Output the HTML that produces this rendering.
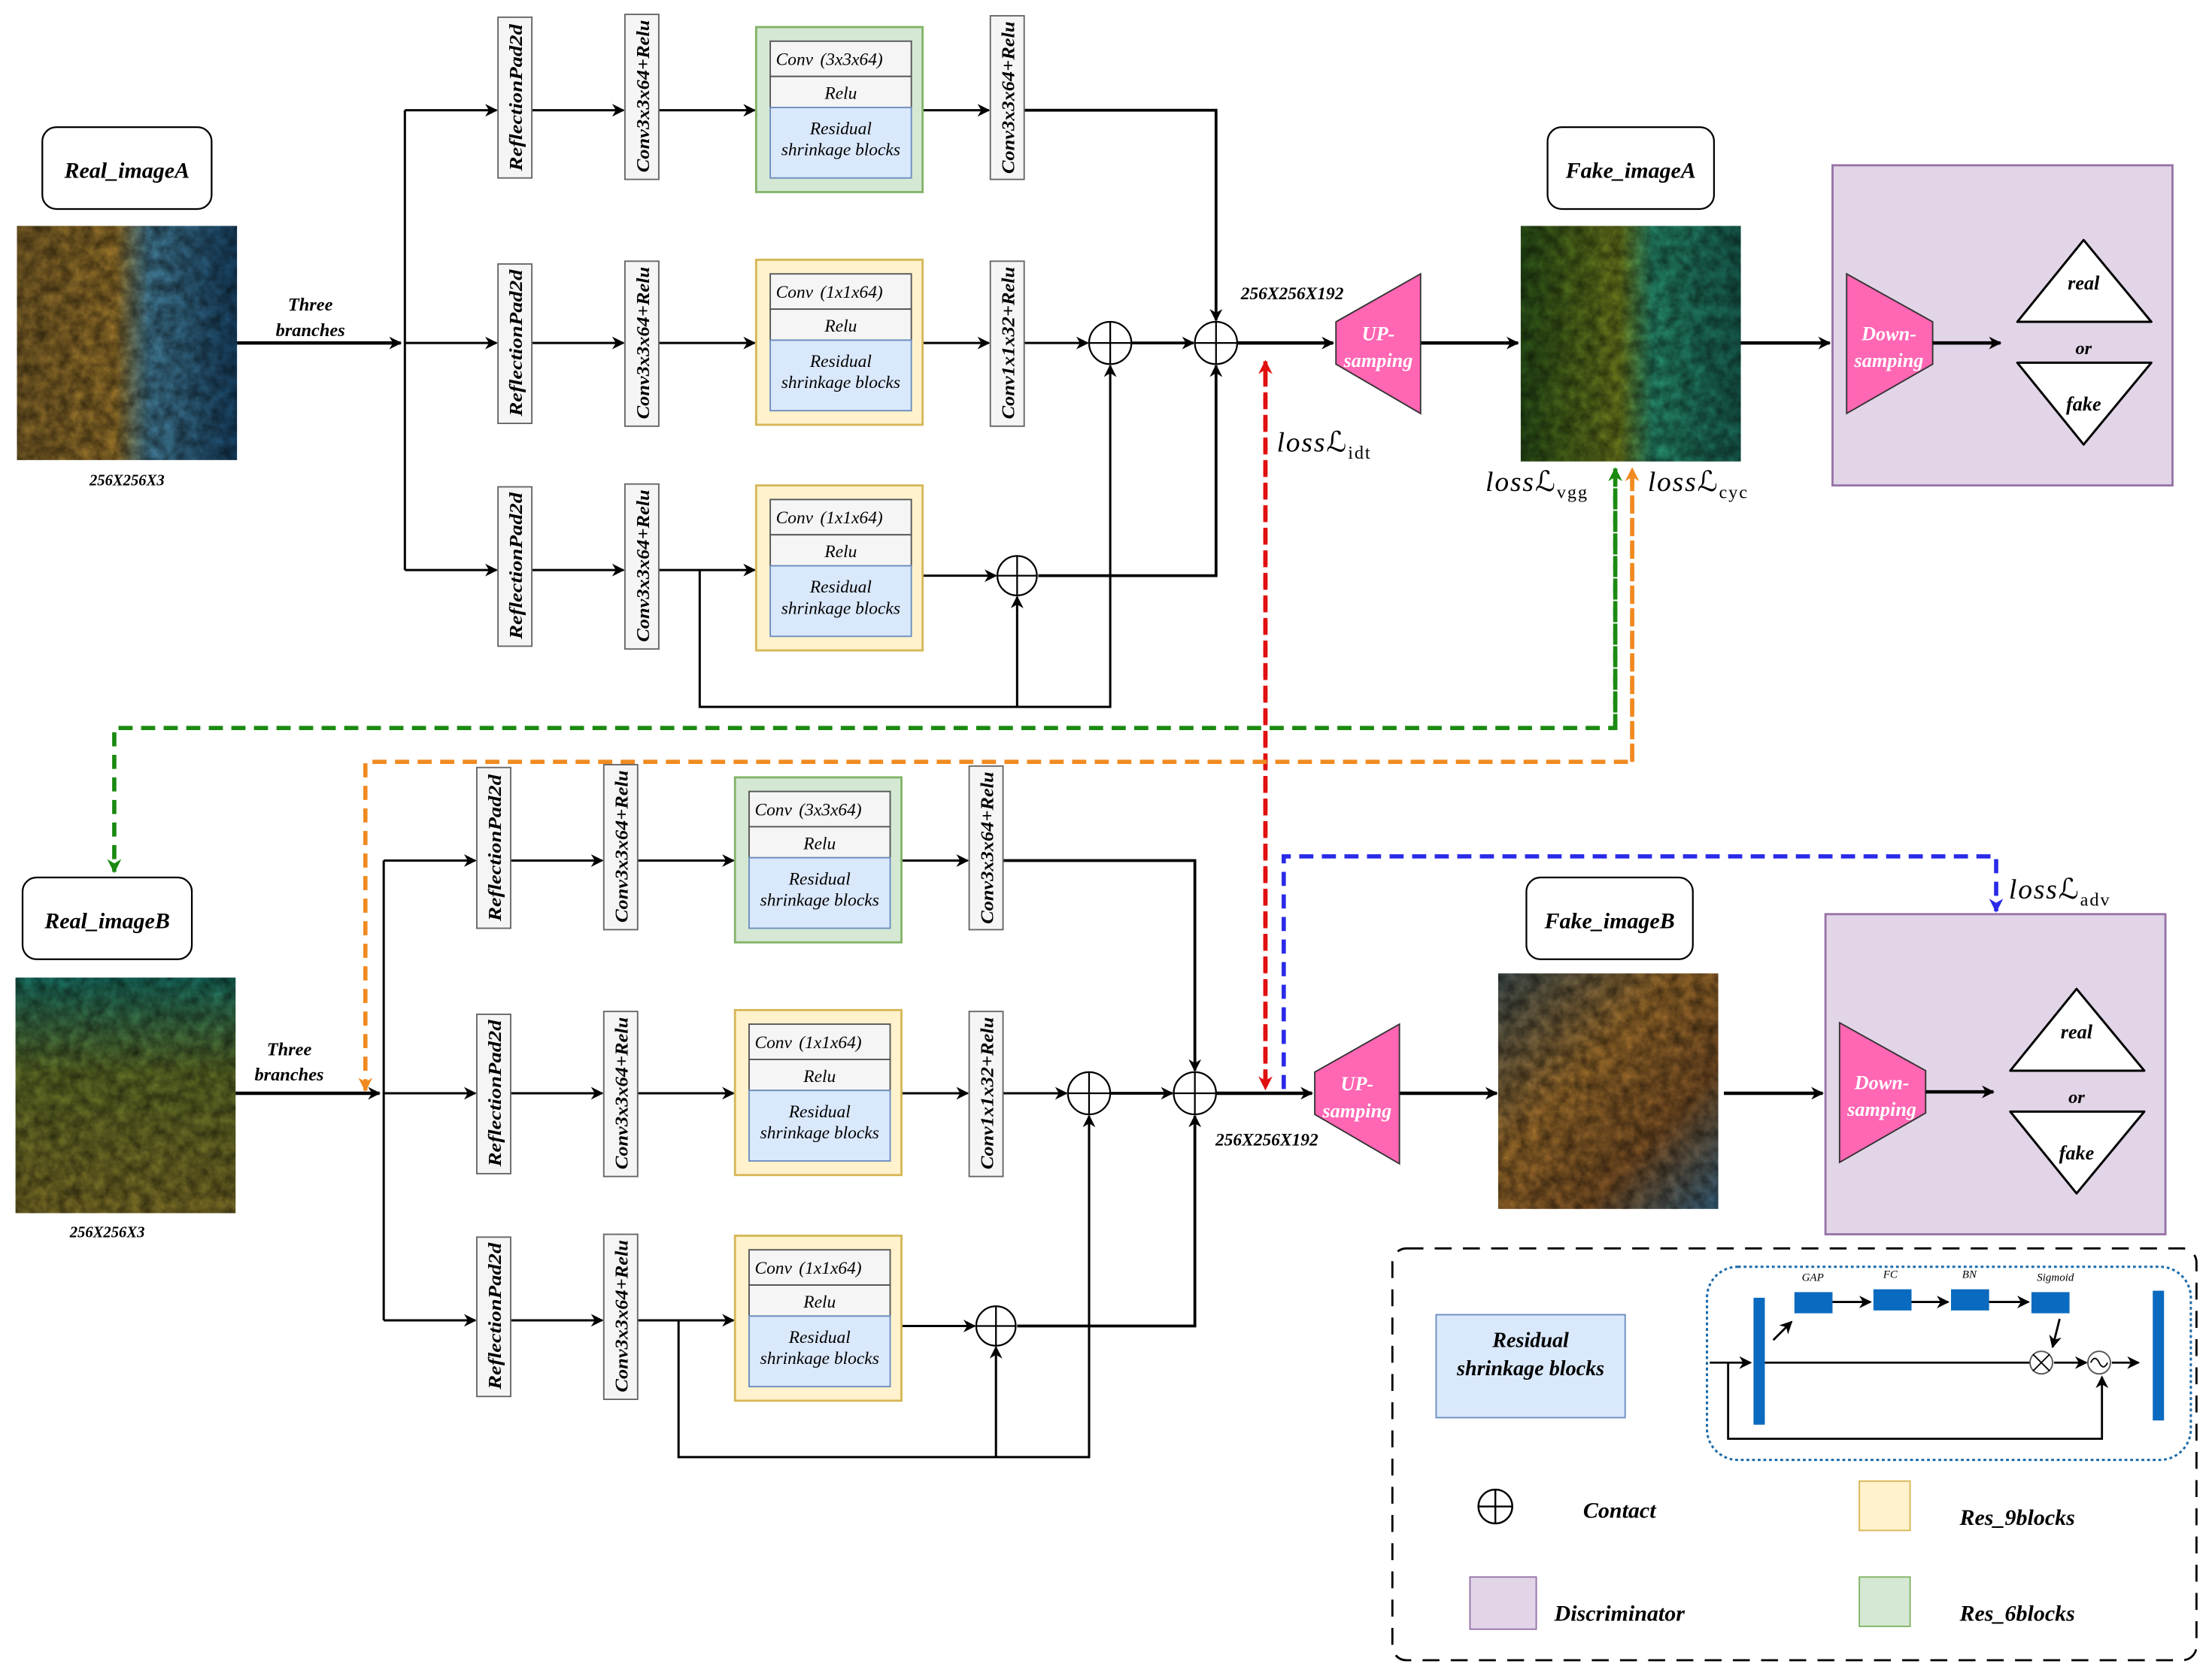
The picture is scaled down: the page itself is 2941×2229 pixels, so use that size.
<!DOCTYPE html>
<html><head><meta charset="utf-8"><style>
html,body{margin:0;padding:0;background:#fff}
svg{display:block}
text{font-family:"Liberation Serif",serif;font-style:italic}
.b{font-weight:bold}
</style></head><body>
<svg width="2941" height="2229" viewBox="0 0 1568 1188" xmlns="http://www.w3.org/2000/svg">
<defs>
<marker id="ar" viewBox="0 0 10 10" refX="9" refY="5" markerWidth="9" markerHeight="9" markerUnits="userSpaceOnUse" orient="auto"><path d="M0,0 L10,5 L0,10 L3,5z" fill="#000"/></marker>
<marker id="arR" viewBox="0 0 10 10" refX="9" refY="5" markerWidth="10" markerHeight="10" markerUnits="userSpaceOnUse" orient="auto"><path d="M0,0 L10,5 L0,10 L3,5z" fill="#e01010"/></marker>
<marker id="arG" viewBox="0 0 10 10" refX="9" refY="5" markerWidth="10" markerHeight="10" markerUnits="userSpaceOnUse" orient="auto"><path d="M0,0 L10,5 L0,10 L3,5z" fill="#1a8a10"/></marker>
<marker id="arO" viewBox="0 0 10 10" refX="9" refY="5" markerWidth="10" markerHeight="10" markerUnits="userSpaceOnUse" orient="auto"><path d="M0,0 L10,5 L0,10 L3,5z" fill="#f08a20"/></marker>
<marker id="arB" viewBox="0 0 10 10" refX="9" refY="5" markerWidth="10" markerHeight="10" markerUnits="userSpaceOnUse" orient="auto"><path d="M0,0 L10,5 L0,10 L3,5z" fill="#2a2ae8"/></marker>
<linearGradient id="imA" x1="0" y1="0" x2="1" y2="0"><stop offset="0" stop-color="#8a6a2a"/><stop offset="0.45" stop-color="#a8802e"/><stop offset="0.6" stop-color="#4a8aa8"/><stop offset="1" stop-color="#1a4a70"/></linearGradient>
<linearGradient id="imFA" x1="0" y1="0" x2="1" y2="0"><stop offset="0" stop-color="#2d5a1a"/><stop offset="0.45" stop-color="#7a8a20"/><stop offset="0.6" stop-color="#2a9a78"/><stop offset="1" stop-color="#1a6a5a"/></linearGradient>
<linearGradient id="imB" x1="0" y1="0" x2="0" y2="1"><stop offset="0" stop-color="#1a7a6a"/><stop offset="0.4" stop-color="#6a7a2a"/><stop offset="1" stop-color="#8a7a2a"/></linearGradient>
<linearGradient id="imFB" x1="0" y1="0" x2="1" y2="1"><stop offset="0" stop-color="#4a5a5a"/><stop offset="0.4" stop-color="#b07a30"/><stop offset="0.7" stop-color="#8a5a28"/><stop offset="1" stop-color="#3a6a8a"/></linearGradient>
<filter id="tx"><feTurbulence type="fractalNoise" baseFrequency="0.12" numOctaves="3" seed="3"/><feColorMatrix values="0 0 0 0 0  0 0 0 0 0  0 0 0 0 0  0 0 0 0.7 0"/><feComposite in2="SourceGraphic" operator="in"/></filter>
<g id="gen">
 <g fill="none" stroke="#000" stroke-width="1.6">
  <path d="M287,78 V404"/>
  <path d="M287,78 H352" marker-end="url(#ar)"/>
  <path d="M287,243 H352" marker-end="url(#ar)"/>
  <path d="M287,404 H352" marker-end="url(#ar)"/>
  <path d="M377,78 H442" marker-end="url(#ar)"/>
  <path d="M377,243 H442" marker-end="url(#ar)"/>
  <path d="M377,404 H442" marker-end="url(#ar)"/>
  <path d="M467,78 H535" marker-end="url(#ar)"/>
  <path d="M467,243 H535" marker-end="url(#ar)"/>
  <path d="M467,404 H535" marker-end="url(#ar)"/>
  <path d="M654,78 H701" marker-end="url(#ar)"/>
  <path d="M654,243 H701" marker-end="url(#ar)"/>
  <path d="M726,78 H862 V227" stroke-width="2" marker-end="url(#ar)"/>
  <path d="M726,243 H771" marker-end="url(#ar)"/>
  <path d="M802,243 H846" stroke-width="2" marker-end="url(#ar)"/>
  <path d="M654,408 H706" marker-end="url(#ar)"/>
  <path d="M736,408 H862 V259" stroke-width="2" marker-end="url(#ar)"/>
  <path d="M496,404 V501 H787 V259" marker-end="url(#ar)"/>
  <path d="M721,501 V423" marker-end="url(#ar)"/>
  <path d="M877,243 H945" stroke-width="2.4" marker-end="url(#ar)"/>
  <path d="M1007,243 H1076" stroke-width="2.4" marker-end="url(#ar)"/>
 </g>
 <g fill="#fff" stroke="#000" stroke-width="1.2">
  <circle cx="787" cy="243" r="15"/><path d="M772,243H802M787,228V258"/>
  <circle cx="862" cy="243" r="15"/><path d="M847,243H877M862,228V258"/>
  <circle cx="721" cy="408" r="14"/><path d="M707,408H735M721,394V422"/>
 </g>
 <g fill="#f5f5f5" stroke="#666" stroke-width="1">
  <rect x="353" y="12" width="24" height="114"/><rect x="353" y="187" width="24" height="113"/><rect x="353" y="345" width="24" height="113"/>
  <rect x="443" y="10" width="24" height="117"/><rect x="443" y="185" width="24" height="117"/><rect x="443" y="343" width="24" height="117"/>
  <rect x="702" y="11" width="24" height="116"/><rect x="702" y="185" width="24" height="117"/>
 </g>
 <g font-size="13" class="b" text-anchor="middle" lengthAdjust="spacingAndGlyphs">
  <text transform="translate(370,69) rotate(-90)" textLength="104" lengthAdjust="spacingAndGlyphs">ReflectionPad2d</text>
  <text transform="translate(370,243) rotate(-90)" textLength="104" lengthAdjust="spacingAndGlyphs">ReflectionPad2d</text>
  <text transform="translate(370,401) rotate(-90)" textLength="104" lengthAdjust="spacingAndGlyphs">ReflectionPad2d</text>
  <text transform="translate(460,68) rotate(-90)" textLength="108" lengthAdjust="spacingAndGlyphs">Conv3x3x64+Relu</text>
  <text transform="translate(460,243) rotate(-90)" textLength="108" lengthAdjust="spacingAndGlyphs">Conv3x3x64+Relu</text>
  <text transform="translate(460,401) rotate(-90)" textLength="108" lengthAdjust="spacingAndGlyphs">Conv3x3x64+Relu</text>
  <text transform="translate(719,69) rotate(-90)" textLength="108" lengthAdjust="spacingAndGlyphs">Conv3x3x64+Relu</text>
  <text transform="translate(719,243) rotate(-90)" textLength="108" lengthAdjust="spacingAndGlyphs">Conv1x1x32+Relu</text>
 </g>
 <rect x="536" y="19" width="118" height="117" fill="#d5e8d4" stroke="#82b366" stroke-width="1.5"/>
 <rect x="536" y="184" width="118" height="117" fill="#fff2cc" stroke="#d6b656" stroke-width="1.5"/>
 <rect x="536" y="344" width="118" height="117" fill="#fff2cc" stroke="#d6b656" stroke-width="1.5"/>
 <g stroke="#555" stroke-width="1">
  <rect x="546" y="29" width="100" height="25" fill="#f5f5f5"/><rect x="546" y="54" width="100" height="22" fill="#f5f5f5"/><rect x="546" y="76" width="100" height="50" fill="#dae8fc" stroke="#6c8ebf"/>
  <rect x="546" y="194" width="100" height="25" fill="#f5f5f5"/><rect x="546" y="219" width="100" height="22" fill="#f5f5f5"/><rect x="546" y="241" width="100" height="50" fill="#dae8fc" stroke="#6c8ebf"/>
  <rect x="546" y="354" width="100" height="25" fill="#f5f5f5"/><rect x="546" y="379" width="100" height="22" fill="#f5f5f5"/><rect x="546" y="401" width="100" height="50" fill="#dae8fc" stroke="#6c8ebf"/>
 </g>
 <g font-size="12.5">
  <text x="550" y="46">Conv<tspan x="572">&#160;&#160;&#160;(3x3x64)</tspan></text><text x="596" y="70" text-anchor="middle">Relu</text><text x="596" y="95" text-anchor="middle">Residual</text><text x="596" y="110" text-anchor="middle">shrinkage blocks</text>
  <text x="550" y="211">Conv<tspan x="572">&#160;&#160;&#160;(1x1x64)</tspan></text><text x="596" y="235" text-anchor="middle">Relu</text><text x="596" y="260" text-anchor="middle">Residual</text><text x="596" y="275" text-anchor="middle">shrinkage blocks</text>
  <text x="550" y="371">Conv<tspan x="572">&#160;&#160;&#160;(1x1x64)</tspan></text><text x="596" y="395" text-anchor="middle">Relu</text><text x="596" y="420" text-anchor="middle">Residual</text><text x="596" y="435" text-anchor="middle">shrinkage blocks</text>
 </g>
 <path d="M947,228 L1007,194 L1007,293 L947,258Z" fill="#ff66b3" stroke="#333" stroke-width="1"/>
 <text x="977" y="241" font-size="14" class="b" fill="#fff" text-anchor="middle">UP-</text>
 <text x="977" y="260" font-size="14" class="b" fill="#fff" text-anchor="middle">samping</text>
</g>
<g id="disc">
 <rect x="1299" y="117" width="241" height="227" fill="#e1d5e7" stroke="#9673a6" stroke-width="1.5"/>
 <path d="M1309,194 L1370,228 L1370,258 L1309,293Z" fill="#ff66b3" stroke="#333" stroke-width="1"/>
 <text x="1339" y="241" font-size="14" class="b" fill="#fff" text-anchor="middle">Down-</text>
 <text x="1339" y="260" font-size="14" class="b" fill="#fff" text-anchor="middle">samping</text>
 <path d="M1370,243 H1418" stroke="#000" stroke-width="2.4" marker-end="url(#ar)"/>
 <path d="M1477,170 L1525,228 L1430,228Z" fill="#fff" stroke="#000" stroke-width="1.6" stroke-linejoin="round"/>
 <path d="M1430,257 L1525,257 L1477,315Z" fill="#fff" stroke="#000" stroke-width="1.6" stroke-linejoin="round"/>
 <text x="1477" y="205" font-size="14" class="b" text-anchor="middle">real</text>
 <text x="1477" y="251" font-size="13" class="b" text-anchor="middle">or</text>
 <text x="1477" y="291" font-size="14" class="b" text-anchor="middle">fake</text>
</g>
</defs>

<rect x="30" y="90" width="120" height="58" rx="10" fill="#fff" stroke="#000" stroke-width="1.2"/>
<text x="90" y="126" font-size="16" class="b" text-anchor="middle">Real_imageA</text>
<rect x="12" y="160" width="156" height="166" fill="url(#imA)"/>
<rect x="12" y="160" width="156" height="166" fill="#c09040" filter="url(#tx)"/>
<text x="90" y="344" font-size="11" class="b" text-anchor="middle">256X256X3</text>
<path d="M168,243 H284" stroke="#000" stroke-width="2.4" marker-end="url(#ar)"/>
<text x="220" y="220" font-size="13" class="b" text-anchor="middle">Three</text>
<text x="220" y="238" font-size="13" class="b" text-anchor="middle">branches</text>
<use href="#gen"/>
<text x="916" y="212" font-size="12.5" class="b" text-anchor="middle">256X256X192</text>
<rect x="1097" y="90" width="118" height="58" rx="10" fill="#fff" stroke="#000" stroke-width="1.2"/>
<text x="1156" y="126" font-size="16" class="b" text-anchor="middle">Fake_imageA</text>
<rect x="1078" y="160" width="156" height="167" fill="url(#imFA)"/>
<rect x="1078" y="160" width="156" height="167" fill="#90a030" filter="url(#tx)"/>
<path d="M1234,243 H1297" stroke="#000" stroke-width="2.4" marker-end="url(#ar)"/>
<use href="#disc"/>
<text x="905" y="320" font-size="20" letter-spacing="1">loss<tspan font-family="DejaVu Serif" font-style="normal">ℒ</tspan><tspan font-size="13" dy="5" font-style="normal">idt</tspan></text>
<text x="1053" y="348" font-size="20" letter-spacing="1">loss<tspan font-family="DejaVu Serif" font-style="normal">ℒ</tspan><tspan font-size="13" dy="5" font-style="normal">vgg</tspan></text>
<text x="1168" y="348" font-size="20" letter-spacing="1">loss<tspan font-family="DejaVu Serif" font-style="normal">ℒ</tspan><tspan font-size="13" dy="5" font-style="normal">cyc</tspan></text>

<rect x="16" y="622" width="120" height="58" rx="10" fill="#fff" stroke="#000" stroke-width="1.2"/>
<text x="76" y="658" font-size="16" class="b" text-anchor="middle">Real_imageB</text>
<rect x="11" y="693" width="156" height="167" fill="url(#imB)"/>
<rect x="11" y="693" width="156" height="167" fill="#8a9a30" filter="url(#tx)"/>
<text x="76" y="877" font-size="11" class="b" text-anchor="middle">256X256X3</text>
<path d="M167,775 H269" stroke="#000" stroke-width="2.4" marker-end="url(#ar)"/>
<text x="205" y="748" font-size="13" class="b" text-anchor="middle">Three</text>
<text x="205" y="766" font-size="13" class="b" text-anchor="middle">branches</text>
<use href="#gen" transform="translate(-15,532)"/>
<text x="898" y="812" font-size="12.5" class="b" text-anchor="middle">256X256X192</text>
<rect x="1082" y="622" width="118" height="58" rx="10" fill="#fff" stroke="#000" stroke-width="1.2"/>
<text x="1141" y="658" font-size="16" class="b" text-anchor="middle">Fake_imageB</text>
<rect x="1062" y="690" width="156" height="167" fill="url(#imFB)"/>
<rect x="1062" y="690" width="156" height="167" fill="#c08030" filter="url(#tx)"/>
<path d="M1222,775 H1292" stroke="#000" stroke-width="2.4" marker-end="url(#ar)"/>
<use href="#disc" transform="translate(-5,531)"/>
<text x="1424" y="637" font-size="20" letter-spacing="1">loss<tspan font-family="DejaVu Serif" font-style="normal">ℒ</tspan><tspan font-size="13" dy="5" font-style="normal">adv</tspan></text>

<g fill="none" stroke-width="3" stroke-dasharray="10,6">
 <path d="M897,770 V256" stroke="#e01010" marker-end="url(#arR)"/>
 <path d="M897,262 V772" stroke="#e01010" marker-end="url(#arR)"/>
 <path d="M1145,335 V516 H81 V618" stroke="#1a8a10" marker-end="url(#arG)"/>
 <path d="M1145,516 V332" stroke="#1a8a10" marker-end="url(#arG)"/>
 <path d="M1157,335 V540 H259 V773" stroke="#f08a20" marker-end="url(#arO)"/>
 <path d="M1157,540 V332" stroke="#f08a20" marker-end="url(#arO)"/>
 <path d="M910,772 V607 H1415 V646" stroke="#2a2ae8" marker-end="url(#arB)"/>
</g>

<rect x="987" y="885" width="570" height="292" rx="10" fill="none" stroke="#000" stroke-width="1.5" stroke-dasharray="12,8"/>
<rect x="1018" y="932" width="134" height="73" fill="#dae8fc" stroke="#6c8ebf"/>
<text x="1085" y="955" font-size="15" class="b" text-anchor="middle">Residual</text>
<text x="1085" y="975" font-size="15" class="b" text-anchor="middle">shrinkage blocks</text>
<rect x="1210" y="898" width="343" height="137" rx="22" fill="none" stroke="#1a6aaa" stroke-width="1.6" stroke-dasharray="2,2"/>
<rect x="1243" y="920" width="8" height="90" fill="#0a6abf"/>
<rect x="1526" y="915" width="8" height="92" fill="#0a6abf"/>
<g fill="#0a6abf"><rect x="1272" y="916" width="27" height="15"/><rect x="1328" y="914" width="27" height="15"/><rect x="1383" y="914" width="27" height="15"/><rect x="1440" y="916" width="27" height="15"/></g>
<g font-family="Liberation Sans" font-size="8" text-anchor="middle"><text x="1285" y="908" font-style="normal">GAP</text><text x="1340" y="906" font-style="normal">FC</text><text x="1396" y="906" font-style="normal">BN</text><text x="1457" y="908" font-style="normal">Sigmoid</text></g>
<g fill="none" stroke="#000" stroke-width="1.5">
 <path d="M1299,923H1326" marker-end="url(#ar)"/><path d="M1355,923H1381" marker-end="url(#ar)"/><path d="M1410,923H1438" marker-end="url(#ar)"/>
 <path d="M1257,950L1270,937" marker-end="url(#ar)"/><path d="M1460,935L1455,955" marker-end="url(#ar)"/>
 <path d="M1251,966H1439"/><path d="M1212,966H1241" marker-end="url(#ar)"/>
 <path d="M1456,966H1479" marker-end="url(#ar)"/><path d="M1497,966H1516" marker-end="url(#ar)"/>
 <path d="M1225,966V1020H1490V976" marker-end="url(#ar)"/>
 <circle cx="1447" cy="966" r="8" stroke="#555" stroke-width="1"/><path d="M1441,960L1453,972M1453,960L1441,972" stroke-width="1"/>
 <circle cx="1488" cy="966" r="8" stroke="#555" stroke-width="1"/><path d="M1482,966q3,-6 6,0t6,0" stroke-width="1"/>
</g>
<circle cx="1060" cy="1068" r="12" fill="none" stroke="#000" stroke-width="1.3"/><path d="M1048,1068H1072M1060,1056V1080" stroke="#000" stroke-width="1.3"/>
<text x="1148" y="1076" font-size="16" class="b" text-anchor="middle">Contact</text>
<rect x="1318" y="1050" width="36" height="35" fill="#fff2cc" stroke="#d6b656"/>
<text x="1430" y="1081" font-size="16" class="b" text-anchor="middle">Res_9blocks</text>
<rect x="1042" y="1118" width="47" height="37" fill="#e1d5e7" stroke="#9673a6"/>
<text x="1148" y="1149" font-size="16" class="b" text-anchor="middle">Discriminator</text>
<rect x="1318" y="1118" width="36" height="35" fill="#d5e8d4" stroke="#82b366"/>
<text x="1430" y="1149" font-size="16" class="b" text-anchor="middle">Res_6blocks</text>
</svg>
</body></html>
